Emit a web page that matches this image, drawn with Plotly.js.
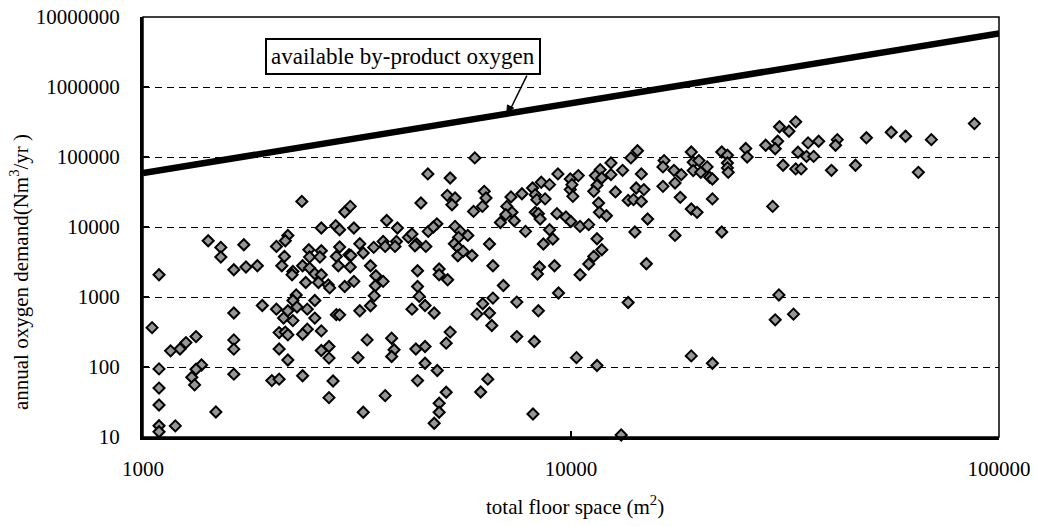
<!DOCTYPE html>
<html>
<head>
<meta charset="utf-8">
<script src="https://cdn.plot.ly/plotly-3.0.1.min.js"></script>
<style>html,body{margin:0;padding:0;background:#fff;}#chart{width:1037px;height:526px;}</style>
</head>
<body>
<div id="chart"></div>
<script>
// total floor space (m2)
const floorSpace = [
2350,2960,3050,2610,2820,2880,2180,2150,2050,1720,
1420,1520,1520,1630,1740,1850,1090,2140,2110,2240,
2230,2360,2440,2450,2610,2590,2880,2830,2860,3030,
2450,2520,2610,2400,2570,2710,2730,2960,2280,2240,
2520,1900,2050,2180,2290,2420,1630,2130,2240,2520,
2830,1050,2420,2610,2080,2150,2180,2360,1330,1260,
1220,1160,1630,1630,2080,2610,2720,2720,2180,1370,
1330,1090,1300,1320,1630,2000,2080,2360,2780,2720,
1090,1090,1480,1090,1090,1190,5960,4630,5220,9320,
6270,6330,6210,5920,5140,5360,5270,4460,8130,8520,
8910,7680,7240,8250,8320,8700,7080,7280,7040,6840,
7370,8250,8390,8470,9270,3710,3110,3930,4860,4640,
4770,5360,5510,5740,5460,5340,5460,5440,5600,5870,
7830,8910,9070,8620,6450,6570,8440,8350,9150,6950,
3210,3270,3060,3460,3640,3680,3910,3880,4170,4250,
4360,4320,4580,3050,3400,3500,3640,3490,3110,4380,
4920,4920,5150,4380,3470,3400,3210,2880,4420,4560,
4250,4790,6570,6220,6450,6030,6530,7470,8390,9350,
3340,3180,3810,3860,3810,4340,4560,5110,5220,4560,
4870,4380,3680,3270,5110,4920,4920,4790,6390,6150,
7470,8210,8150,28500,25600,25800,22500,23200,23200,23200,
23300,19100,19300,19900,19300,20800,20100,21100,21400,21400,
16500,16400,17400,18100,17500,16400,18000,14300,13800,13200,
14600,14200,14800,13600,14000,14600,15100,19100,19700,22500,
17500,14100,12400,12400,11700,11400,11800,11500,11300,12700,
11600,11650,12100,10400,9960,9960,10100,10050,9730,9990,
10500,11000,11500,11800,11300,11000,10500,15000,13600,30600,
30000,10300,11500,19100,21400,13100,33500,30700,32300,30400,
30000,33900,35800,37900,35500,36900,31300,33500,34500,41900,
41500,40600,46200,49000,56000,60500,69500,64800,87600,29600,
33100
];
// annual oxygen demand (Nm3/yr)
const oxygenDemand = [
23200,16400,19700,9680,10440,9150,7580,6370,5280,5580,
6370,5110,3720,2450,2680,2800,2080,3800,2800,2320,
2080,2800,4730,3720,4580,3720,5180,3800,2800,4020,
2590,2150,2080,1610,1610,1490,1350,1410,1070,890,
890,755,670,635,720,670,590,500,460,500,
560,365,347,328,310,315,288,294,272,223,
181,170,244,180,181,172,196,134,126,107,
93,94,71.5,55.5,79,64,67,75,63,36.5,
50,28.7,22.8,14.5,11.9,14.4,97000,57300,50200,57300,
32300,26000,19700,16700,28300,26000,20800,22000,36100,43500,
40300,29900,26900,29000,24600,25200,19700,16200,15000,11600,
12300,16200,15500,13000,15500,12400,9680,9680,11100,8650,
10000,10200,8650,7580,7100,5770,5010,3890,4480,3920,
8650,9150,6730,5710,5710,2800,2680,2130,2800,1460,
5770,4250,3920,5110,6220,5280,6220,5280,7100,7940,
5710,5400,5280,2680,2800,2010,1670,1450,1670,2370,
2510,2080,1760,1410,1040,750,635,556,1020,755,
670,590,965,800,590,569,391,845,635,1140,
244,136,258,176,141,181,196,219,315,113,
89,64,39,22.6,43.6,30.3,22.6,15.7,67,44,
272,231,21.3,147000,132000,100000,118000,106000,82300,69900,
60400,118000,84000,88800,63900,72200,60400,51200,48600,25200,
88800,72200,64500,56000,42600,38100,26500,123000,97000,64500,
57300,36100,34200,24000,24600,23200,13000,18100,16200,8480,
7580,8480,82300,56000,66000,54200,50200,39400,32300,31700,
22000,16200,14500,54200,48600,34200,27400,40300,13900,12000,
10200,10800,6800,4730,3800,2960,2080,2990,834,1070,
472,136,105,144,113,10.7,318000,270000,233000,168000,
131000,117000,159000,168000,102000,102000,76100,67600,67600,177000,
147000,64500,76100,188000,226000,198000,177000,60400,300000,19700,
569
];
// available by-product oxygen line
const byproductX = [1000, 100000];
const byproductY = [59000, 5800000];

const xTicks = [1000, 10000, 100000];
const xTickText = ['1000', '10000', '100000'];
const yTicks = [10, 100, 1000, 10000, 100000, 1000000, 10000000];
const yTickText = ['10', '100', '1000', '10000', '100000', '1000000', '10000000'];

const FONT = '"Liberation Serif", "Times New Roman", Times, serif';

const traces = [
  {
    x: byproductX, y: byproductY, type: 'scatter', mode: 'lines',
    line: {color: '#000', width: 6.5}, hoverinfo: 'skip', showlegend: false
  },
  {
    x: floorSpace, y: oxygenDemand, type: 'scatter', mode: 'markers',
    cliponaxis: false,
    marker: {symbol: 'diamond', size: 8.5, color: '#969696', line: {color: '#000', width: 2}},
    showlegend: false
  }
];

const layout = {
  width: 1037, height: 526,
  margin: {l: 143, r: 38, t: 17, b: 89},
  paper_bgcolor: '#fff', plot_bgcolor: '#fff',
  font: {family: FONT, color: '#000', size: 21},
  showlegend: false,
  xaxis: {
    type: 'log', range: [3, 5],
    tickvals: xTicks, ticktext: xTickText,
    ticks: 'inside', ticklen: 6, tickwidth: 2, tickcolor: '#000',
    showline: true, linewidth: 3, linecolor: '#000',
    showgrid: false, zeroline: false,
    tickfont: {family: FONT, size: 21, color: '#000'},
    ticklabelstandoff: 11
  },
  yaxis: {
    type: 'log', range: [1, 7],
    tickvals: yTicks, ticktext: yTickText,
    ticks: 'inside', ticklen: 6, tickwidth: 2, tickcolor: '#000',
    showline: true, linewidth: 3, linecolor: '#000',
    showgrid: true, gridcolor: '#000', gridwidth: 1, griddash: '7px,5px',
    zeroline: false,
    tickfont: {family: FONT, size: 21, color: '#000'},
    ticklabelstandoff: 16
  },
  shapes: [
    {type: 'rect', xref: 'paper', yref: 'paper', x0: 0, x1: 1, y0: 0, y1: 1,
     line: {color: '#000', width: 1.5}, layer: 'above'},
    {type: 'line', xref: 'paper', yref: 'paper', x0: 0.4484, y0: 0.8605, x1: 0.4280, y1: 0.7757,
     line: {color: '#000', width: 1.5}, layer: 'above'},
    {type: 'path', xref: 'paper', yref: 'paper',
     path: 'M 0.425 0.770 L 0.4330 0.7831 L 0.4257 0.7907 Z',
     fillcolor: '#000', line: {color: '#000', width: 1}, layer: 'above'}
  ],
  annotations: [
    {xref: 'paper', yref: 'paper', x: 0.3035, y: 0.905, xanchor: 'center', yanchor: 'middle',
     text: 'available by-product oxygen', showarrow: false,
     font: {family: FONT, size: 23, color: '#000'},
     bgcolor: '#fff', bordercolor: '#000', borderwidth: 2, borderpad: 4},
    {xref: 'paper', yref: 'paper', x: 0.5045, y: -0.162, xanchor: 'center', yanchor: 'middle',
     text: 'total floor space (m<sup>2</sup>)', showarrow: false,
     font: {family: FONT, size: 21, color: '#000'}},
    {xref: 'paper', yref: 'paper', x: -0.144, y: 0.392, xanchor: 'center', yanchor: 'middle',
     textangle: -90, text: 'annual oxygen demand(Nm<sup>3</sup>/yr )', showarrow: false,
     font: {family: FONT, size: 21, color: '#000'}}
  ]
};

Plotly.newPlot('chart', traces, layout, {displayModeBar: false, staticPlot: true});
</script>
</body>
</html>
